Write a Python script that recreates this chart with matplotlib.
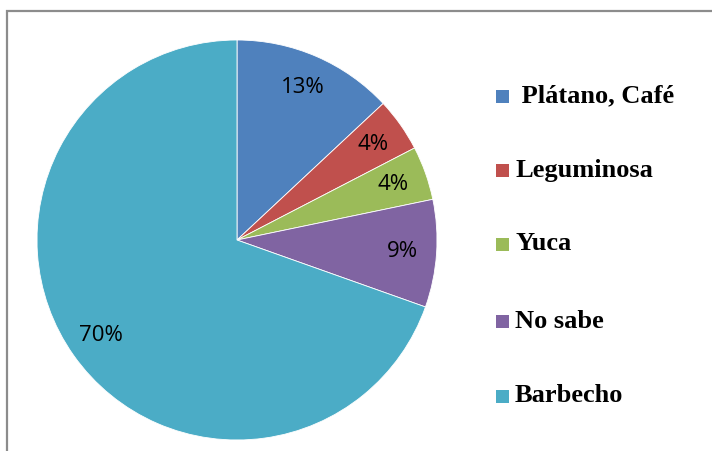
import matplotlib
matplotlib.use('Agg')
import matplotlib.pyplot as plt
from matplotlib.patches import Rectangle

# data
categories = [' Plátano, Café', 'Leguminosa', 'Yuca', 'No sabe', 'Barbecho']
counts = [3, 1, 1, 2, 16]
colors = ['#4F81BD', '#C0504D', '#9BBB59', '#8064A2', '#4BACC6']

W, H = 712, 451
fig = plt.figure(figsize=(W / 100, H / 100), dpi=100)

# grey chart frame (runs off the right and bottom edges)
fig.add_artist(Rectangle((7 / W, -0.05), 1.0, 1 - 11 / H + 0.05,
                         transform=fig.transFigure, fill=False,
                         edgecolor='#8c8c8c', linewidth=1.6, clip_on=False))

ax = fig.add_axes([37 / W, 11 / H, 400 / W, 400 / H])
wedges, texts, autotexts = ax.pie(
    counts, colors=colors, startangle=90, counterclock=False,
    autopct='%1.0f%%', pctdistance=0.83, radius=1.0,
    wedgeprops=dict(edgecolor='white', linewidth=0.6),
    textprops=dict(fontsize=16, family='Open Sans', color='black'))
ax.set_xlim(-1, 1)
ax.set_ylim(-1, 1)
ax.set_aspect('equal')

# legend, drawn item by item
leg_y = [96, 170, 244, 321, 396]
for lab, col, y in zip(categories, colors, leg_y):
    fig.add_artist(Rectangle((496 / W, 1 - (y + 6.5) / H), 13 / W, 13 / H,
                             transform=fig.transFigure, facecolor=col,
                             edgecolor='none'))
    fig.text(515 / W, 1 - y / H, lab, fontsize=19, fontweight='bold',
             family='Liberation Serif', va='center', ha='left')

fig.savefig('out.png', dpi=100)
